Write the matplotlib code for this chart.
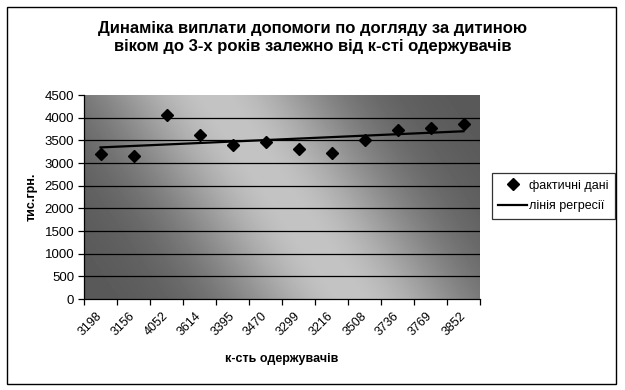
import numpy as np
import matplotlib
matplotlib.use("Agg")
import matplotlib.pyplot as plt
from matplotlib.patches import Rectangle

plt.rcParams['font.family'] = ['Liberation Sans', 'DejaVu Sans']

# дані: кількість одержувачів і сума виплат (тис.грн.)
recipients = ['3198', '3156', '4052', '3614', '3395', '3470',
              '3299', '3216', '3508', '3736', '3769', '3852']
payments = [3198, 3156, 4052, 3614, 3395, 3470, 3299, 3216, 3508, 3736, 3769, 3852]
y_ticks = [0, 500, 1000, 1500, 2000, 2500, 3000, 3500, 4000, 4500]

title = 'Динаміка виплати допомоги по догляду за дитиною\nвіком до 3-х років залежно від к-сті одержувачів'

fig = plt.figure(figsize=(6.25, 3.9), dpi=100)
ax = fig.add_axes([84/625, 1-299/390, 396/625, 204/390])

# градієнтний фон області побудови
h, w = 204, 396
rows, cols = np.mgrid[0:h, 0:w]
band = 130 + 137 * rows / h
d = np.abs(cols - band)
grad = (88 + 108 * np.exp(-(d / 120.0) ** 2)) / 255.0
ax.imshow(grad, cmap='gray', vmin=0, vmax=1, extent=(0, 1, 0, 1),
          transform=ax.transAxes, aspect='auto', zorder=0, interpolation='bilinear')

x = np.arange(len(payments))
for t in y_ticks[1:-1]:
    ax.axhline(t, color='black', lw=0.9, zorder=1)

pts, = ax.plot(x, payments, 'D', color='black', ms=6, zorder=3, label='фактичні дані')
k, b = np.polyfit(x, payments, 1)
reg, = ax.plot(x, k * x + b, color='black', lw=1.6, zorder=2, label='лінія регресії')

ax.set_xlim(-0.5, len(payments) - 0.5)
ax.set_ylim(0, 4500)
ax.set_yticks(y_ticks)
ax.set_xticks(x)
ax.set_xticklabels(recipients, rotation=45, ha='right', va='center',
                   rotation_mode='anchor', fontsize=9)
ax.set_xticks(np.arange(-0.5, len(payments)), minor=True)
ax.tick_params(axis='x', which='major', length=0, pad=11)
ax.tick_params(axis='x', which='minor', length=4, width=0.9, direction='out')
ax.tick_params(axis='y', length=4, width=0.9, direction='out', labelsize=9.5, pad=3)

for s in ['top', 'right']:
    ax.spines[s].set_visible(False)
for s in ['left', 'bottom']:
    ax.spines[s].set_linewidth(0.9)
    ax.spines[s].set_zorder(4)

fig.text(0.5, 1-37.5/390, title, ha='center', va='center', fontsize=12,
         fontweight='bold', linespacing=1.2)
fig.text(32/625, 1-197/390, 'тис.грн.', rotation=90, ha='center', va='center',
         fontsize=9, fontweight='bold')
fig.text(282/625, 1-359/390, 'к-сть одержувачів', ha='center', va='center',
         fontsize=9, fontweight='bold')

leg = fig.legend(handles=[pts, reg], loc='center left',
                 bbox_to_anchor=(492/625, 1-196/390), fontsize=9,
                 frameon=True, fancybox=False, edgecolor='black',
                 handlelength=2.3, borderpad=0.5, labelspacing=0.7,
                 handletextpad=0.15, borderaxespad=0)
leg.get_frame().set_linewidth(0.9)

fig.patches.append(Rectangle((7/625, 6/390), 609/625, 377/390, transform=fig.transFigure,
                             fill=False, edgecolor='black', lw=1))

fig.savefig('out.png', dpi=100)
